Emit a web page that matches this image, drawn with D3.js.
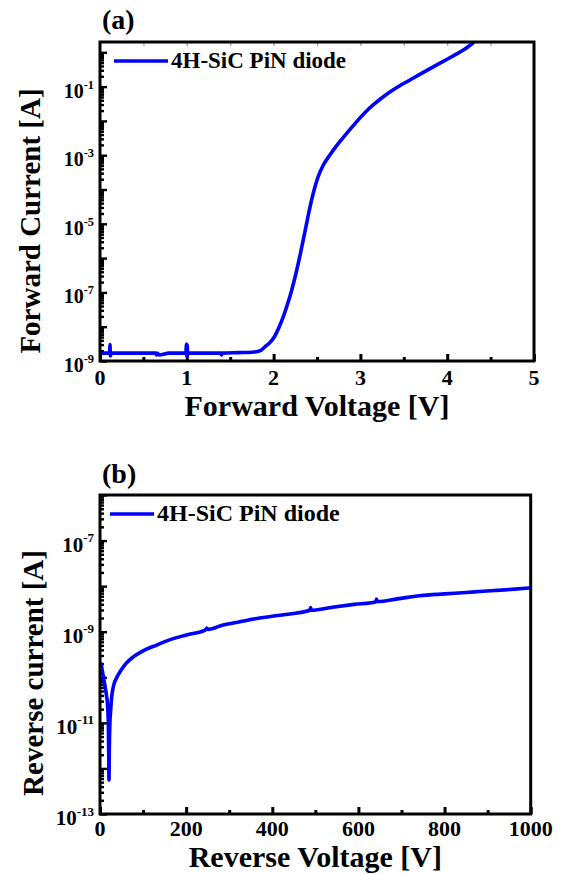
<!DOCTYPE html>
<html>
<head>
<meta charset="utf-8">
<script src="https://cdn.jsdelivr.net/npm/d3@7/dist/d3.min.js"></script>
<style>
  html, body { margin: 0; padding: 0; background: #fff; }
  svg { display: block; }
  text { font-family: "Liberation Serif", "Times New Roman", serif; font-weight: bold; fill: #000; }
</style>
</head>
<body>
<svg id="chart" width="564" height="874"></svg>
<script>
// ---------- Panel (a): forward I-V ----------
const fwdVoltage = [0, 0.05, 0.1, 0.11, 0.115, 0.12, 0.13, 0.2, 0.4, 0.6, 0.64, 0.65, 0.66, 0.68, 0.8, 0.99, 0.995, 1.0, 1.005, 1.01, 1.02, 1.2, 1.39, 1.4, 1.41, 1.6, 1.75, 1.85, 1.90, 1.95, 2.01, 2.06, 2.11, 2.16, 2.21, 2.26, 2.31, 2.36, 2.41, 2.46, 2.51, 2.57, 2.64, 2.72, 2.83, 2.95, 3.10, 3.26, 3.41, 3.56, 3.72, 3.87, 4.00, 4.10, 4.20, 4.30];
const fwdCurrent = [1.7e-9, 1.7e-9, 1.7e-9, 1.7e-9, 3.0e-9, 1.4e-9, 1.7e-9, 1.7e-9, 1.7e-9, 1.7e-9, 1.7e-9, 1.5e-9, 1.7e-9, 1.5e-9, 1.7e-9, 1.7e-9, 3.1e-9, 1.4e-9, 2.9e-9, 1.5e-9, 1.7e-9, 1.7e-9, 1.7e-9, 1.5e-9, 1.7e-9, 1.75e-9, 1.8e-9, 2.0e-9, 2.6e-9, 3.3e-9, 5.1e-9, 9.3e-9, 1.9e-8, 4.5e-8, 1.2e-7, 3.8e-7, 1.4e-6, 5.75e-6, 2.4e-5, 8.3e-5, 2.24e-4, 5.0e-4, 9.5e-4, 1.82e-3, 3.98e-3, 9.1e-3, 2.3e-2, 5.0e-2, 9.1e-2, 0.151, 0.257, 0.417, 0.63, 0.87, 1.23, 1.9];
const fwdXTicks = [0, 1, 2, 3, 4, 5];
const fwdXMinor = [0.5, 1.5, 2.5, 3.5, 4.5];
const fwdYLabelExp = [-9, -7, -5, -3, -1];

// ---------- Panel (b): reverse I-V ----------
const revVoltage = [0, 2.3, 5, 8, 11.6, 15, 17.5, 19.3, 20.2, 20.9, 21.6, 23, 24.8, 27, 30.9, 38, 46.4, 60, 77.3, 100, 131.6, 165, 201, 245, 248, 251, 286, 325, 364, 400, 441, 487, 489, 491, 540, 590, 640, 642, 644, 690, 742, 800, 850, 881, 940, 996];
const revCurrent = [2.0e-10, 2.0e-10, 1.45e-10, 1.0e-10, 6.5e-11, 4.0e-11, 2.5e-11, 1.0e-11, 2.5e-12, 5.6e-13, 2.5e-12, 1.0e-11, 1.9e-11, 3.6e-11, 6.2e-11, 9.5e-11, 1.32e-10, 2.0e-10, 2.8e-10, 3.8e-10, 5.1e-10, 6.8e-10, 8.5e-10, 1.1e-9, 1.2e-9, 1.12e-9, 1.41e-9, 1.66e-9, 1.95e-9, 2.19e-9, 2.45e-9, 2.95e-9, 3.4e-9, 2.95e-9, 3.45e-9, 3.98e-9, 4.5e-9, 5.2e-9, 4.6e-9, 5.25e-9, 6.17e-9, 6.76e-9, 7.24e-9, 7.6e-9, 8.3e-9, 9.1e-9];
const revXTicks = [0, 200, 400, 600, 800, 1000];
const revXMinor = [100, 300, 500, 700, 900];
const revYLabelExp = [-13, -11, -9, -7];

const seriesName = "4H-SiC PiN diode";

const svg = d3.select("#chart");

function drawPanel(cfg) {
  const g = svg.append("g");
  const x = d3.scaleLinear().domain(cfg.xDomain).range([cfg.left, cfg.right]);
  const y = d3.scaleLog().domain(cfg.yDomain).range([cfg.bottom, cfg.top]);

  const clipId = "clip-" + cfg.id;
  svg.append("defs").append("clipPath").attr("id", clipId)
    .append("rect").attr("x", cfg.left).attr("y", cfg.top)
    .attr("width", cfg.right - cfg.left).attr("height", cfg.bottom - cfg.top);

  // Bottom axis (ticks inward)
  const bottomMajor = d3.axisBottom(x).tickValues(cfg.xTicks).tickSize(-7).tickFormat("");
  const bottomMinor = d3.axisBottom(x).tickValues(cfg.xMinor).tickSize(-4).tickFormat("");
  [bottomMajor, bottomMinor].forEach(ax => {
    const a = g.append("g").attr("transform", `translate(0,${cfg.bottom})`).call(ax);
    a.select(".domain").remove();
    a.selectAll("line").attr("stroke", "#000").attr("stroke-width", 3);
  });
  // x tick labels
  g.selectAll(".xlab").data(cfg.xTicks).enter().append("text")
    .attr("x", d => x(d)).attr("y", cfg.xLabelY)
    .attr("text-anchor", "middle").attr("font-size", cfg.tickFont)
    .text(d => d);

  // Top faint ticks (panel a)
  if (cfg.topTicks) {
    const topAx = d3.axisTop(x).tickValues(cfg.xMinor.concat(cfg.xTicks)).tickSize(-4).tickFormat("");
    const a = g.append("g").attr("transform", `translate(0,${cfg.top})`).call(topAx);
    a.select(".domain").remove();
    a.selectAll("line").attr("stroke", "#999").attr("stroke-width", 1.2);
  }

  // Left axis: major each decade, minor 2..9
  const lo = Math.floor(Math.log10(cfg.yDomain[0]));
  const hi = Math.ceil(Math.log10(cfg.yDomain[1]));
  const majors = [], minors = [];
  for (let e = lo; e <= hi; e++) {
    const v = Math.pow(10, e);
    if (v >= cfg.yDomain[0] && v <= cfg.yDomain[1]) majors.push(v);
    for (let m = 2; m <= 9; m++) {
      const mv = m * v;
      if (mv > cfg.yDomain[0] && mv < cfg.yDomain[1]) minors.push(mv);
    }
  }
  const leftMajor = d3.axisLeft(y).tickValues(majors).tickSize(-7).tickFormat("");
  const leftMinor = d3.axisLeft(y).tickValues(minors).tickSize(-4).tickFormat("");
  [leftMajor, leftMinor].forEach(ax => {
    const a = g.append("g").attr("transform", `translate(${cfg.left},0)`).call(ax);
    a.select(".domain").remove();
    a.selectAll("line").attr("stroke", "#000").attr("stroke-width", 2.4);
  });

  // y tick labels 10^n
  const yl = g.selectAll(".ylab").data(cfg.yLabelExp).enter().append("text")
    .attr("x", cfg.yLabelX).attr("y", d => y(Math.pow(10, d)) + cfg.yLabelDy)
    .attr("text-anchor", "end").attr("font-size", cfg.yTickFont);
  yl.append("tspan").text("10");
  yl.append("tspan").attr("dy", -cfg.yTickFont * 0.45).attr("font-size", cfg.yTickFont * 0.62)
    .text(d => "-" + Math.abs(d));

  // Data line
  const line = d3.line().x(d => x(d[0])).y(d => y(d[1])).curve(d3.curveMonotoneX);
  const pts = cfg.xs.map((v, i) => [v, cfg.ys[i]]);
  g.append("path").datum(pts).attr("clip-path", `url(#${clipId})`)
    .attr("d", line).attr("fill", "none").attr("stroke", "#0000ff")
    .attr("stroke-width", 3.6).attr("stroke-linejoin", "round").attr("stroke-linecap", "round");

  // Frame
  g.append("rect").attr("x", cfg.left).attr("y", cfg.top)
    .attr("width", cfg.right - cfg.left).attr("height", cfg.bottom - cfg.top)
    .attr("fill", "none").attr("stroke", "#000").attr("stroke-width", 3);

  // Legend
  g.append("line").attr("x1", cfg.legX1).attr("x2", cfg.legX2)
    .attr("y1", cfg.legY).attr("y2", cfg.legY)
    .attr("stroke", "#0000ff").attr("stroke-width", 3.6);
  g.append("text").attr("x", cfg.legX2 + 3).attr("y", cfg.legY + 7)
    .attr("font-size", cfg.legFont).text(seriesName);

  // Panel label
  g.append("text").attr("x", cfg.left + 2).attr("y", cfg.panelLabelY)
    .attr("font-size", 28).text(cfg.panelLabel);

  // Axis titles
  g.append("text").attr("x", (cfg.left + cfg.right) / 2).attr("y", cfg.xTitleY)
    .attr("text-anchor", "middle").attr("font-size", 30).text(cfg.xTitle);
  g.append("text").attr("transform", `translate(${cfg.yTitleX},${cfg.yTitleCY}) rotate(-90)`)
    .attr("text-anchor", "middle").attr("font-size", 29).text(cfg.yTitle);
}

drawPanel({
  id: "a", left: 100, right: 534, top: 42, bottom: 361,
  xDomain: [0, 5], yDomain: [1e-9, 2],
  xTicks: fwdXTicks, xMinor: fwdXMinor, yLabelExp: fwdYLabelExp,
  xs: fwdVoltage, ys: fwdCurrent,
  xLabelY: 385, tickFont: 22, yTickFont: 20, yLabelX: 94, yLabelDy: 11,
  topTicks: true,
  legX1: 114, legX2: 168, legY: 61, legFont: 23,
  panelLabel: "(a)", panelLabelY: 29,
  xTitle: "Forward Voltage [V]", xTitleY: 416,
  yTitle: "Forward Current [A]", yTitleX: 40, yTitleCY: 221
});

drawPanel({
  id: "b", left: 100, right: 530.7, top: 495, bottom: 814,
  xDomain: [0, 1000], yDomain: [1e-13, 1e-6],
  xTicks: revXTicks, xMinor: revXMinor, yLabelExp: revYLabelExp,
  xs: revVoltage, ys: revCurrent,
  xLabelY: 836, tickFont: 22, yTickFont: 21, yLabelX: 94, yLabelDy: 11,
  topTicks: false,
  legX1: 110, legX2: 154, legY: 514, legFont: 24,
  panelLabel: "(b)", panelLabelY: 483,
  xTitle: "Reverse Voltage [V]", xTitleY: 867,
  yTitle: "Reverse current [A]", yTitleX: 43, yTitleCY: 673
});
</script>
</body>
</html>
